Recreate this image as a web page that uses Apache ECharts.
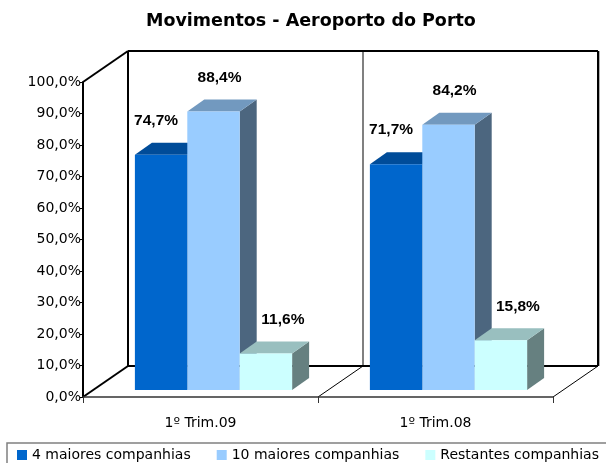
<!DOCTYPE html>
<html>
<head>
<meta charset="utf-8">
<script src="https://cdn.jsdelivr.net/npm/echarts@6/dist/echarts.min.js"></script>
<style>
  html, body { margin: 0; padding: 0; background: #fff; }
  #chart { width: 606px; height: 463px; }
</style>
</head>
<body>
<div id="chart"></div>
<script>
// dados
const categories = ["1º Trim.09", "1º Trim.08"]
const seriesNames = ["4 maiores companhias", "10 maiores companhias", "Restantes companhias"]
const top4 = [74.7, 71.7]
const top10 = [88.4, 84.2]
const others = [11.6, 15.8]

const fronts = ["#0066CC", "#99CCFF", "#CCFFFF"]
const tops = ["#004C99", "#7299BF", "#99BFBF"]
const sides = ["#003366", "#4C667F", "#668080"]
const labelOff = [-5, 6, 17]

// profundidade da "caixa" 3D
const WALL_DX = 45
const WALL_DY = -31
const BAR_SHIFT_X = 13
const BAR_SHIFT_Y = -7
const BAR_DX = 17
const BAR_DY = -12

const fmt = (v) => v.toFixed(1).replace(".", ",") + "%"

const renderFrame = (params, api) => {
  const bw = api.size([1, 0])[0]
  const p0 = api.coord([0, 0])
  const p1 = api.coord([1, 0])
  const left = p0[0] - bw / 2
  const right = p1[0] + bw / 2
  const mid = (left + right) / 2
  const y0 = p0[1]
  const y100 = api.coord([0, 100])[1]
  const bl = left + WALL_DX
  const br = right + WALL_DX
  const bt = y100 + WALL_DY
  const bb = y0 + WALL_DY
  const line = (x1, y1, x2, y2, color, width) => ({
    type: "line",
    shape: { x1, y1, x2, y2 },
    style: { stroke: color, lineWidth: width },
  })
  return {
    type: "group",
    children: [
      line(br + 1.5, bt, br + 1.5, bb, "#b0b0b0", 1),
      line(mid + WALL_DX, bt, mid + WALL_DX, bb, "#808080", 2),
      line(bl, bt, br, bt, "#000", 2),
      line(br, bt, br, bb, "#000", 2),
      line(bl, bt, bl, bb, "#000", 2),
      line(bl, bb, br, bb, "#000", 2),
      line(left, y100, bl, bt, "#000", 2),
      line(left, y0, bl, bb, "#000", 2),
      line(mid, y0, mid + WALL_DX, bb, "#000", 1),
      line(right, y0, br, bb, "#000", 1),
    ],
  }
}

const makeBar = (idx) => (params, api) => {
  const cat = api.value(0)
  const v = api.value(1)
  const base = api.coord([cat, 0])
  const topPt = api.coord([cat, v])
  const bw = api.size([1, 0])[0]
  const barW = bw * 0.223
  const x0 = base[0] + BAR_SHIFT_X + (idx - 1.5) * barW
  const x1 = x0 + barW
  const yb = base[1] + BAR_SHIFT_Y
  const yt = topPt[1] + BAR_SHIFT_Y
  return {
    type: "group",
    children: [
      {
        type: "polygon",
        shape: { points: [[x1, yt], [x1 + BAR_DX, yt + BAR_DY], [x1 + BAR_DX, yb + BAR_DY], [x1, yb]] },
        style: { fill: sides[idx] },
      },
      {
        type: "polygon",
        shape: { points: [[x0, yt], [x0 + BAR_DX, yt + BAR_DY], [x1 + BAR_DX, yt + BAR_DY], [x1, yt]] },
        style: { fill: tops[idx] },
      },
      {
        type: "rect",
        shape: { x: x0, y: yt, width: barW, height: yb - yt },
        style: { fill: fronts[idx] },
      },
      {
        type: "text",
        style: {
          text: fmt(v),
          x: x0 + barW / 2 + labelOff[idx],
          y: yt - 34,
          align: "center",
          verticalAlign: "middle",
          fill: "#000",
          font: "bold 15.5px 'Liberation Sans'",
        },
      },
    ],
  }
}

const values = [top4, top10, others]

const option = {
  animation: false,
  title: {
    text: "Movimentos - Aeroporto do Porto",
    left: 146,
    top: 12,
    padding: 0,
    textStyle: { fontFamily: "DejaVu Sans", fontWeight: "bold", fontSize: 17.5, color: "#000" },
  },
  legend: {
    data: seriesNames,
    orient: "horizontal",
    left: 7,
    top: 443,
    width: 660,
    padding: [5, 10, 10, 10],
    icon: "rect",
    itemWidth: 10,
    itemHeight: 10,
    itemGap: 26,
    itemTextGap: 5,
    borderColor: "#808080",
    borderWidth: 1.5,
    textStyle: { fontFamily: "DejaVu Sans", fontSize: 14, color: "#000" },
  },
  grid: { left: 83, right: 53, top: 82, bottom: 66 },
  xAxis: {
    type: "category",
    data: categories,
    boundaryGap: true,
    axisLine: { lineStyle: { color: "#333", width: 1.5 } },
    axisTick: { show: true, length: 6, interval: 0, lineStyle: { color: "#333" } },
    axisLabel: { margin: 19, fontFamily: "DejaVu Sans", fontSize: 14, color: "#000" },
    z: 1,
  },
  yAxis: {
    type: "value",
    min: 0,
    max: 100,
    interval: 10,
    axisLine: { show: true, lineStyle: { color: "#000", width: 2 } },
    axisTick: { show: true, length: 3, lineStyle: { color: "#000" } },
    splitLine: { show: false },
    axisLabel: {
      margin: 2,
      fontFamily: "DejaVu Sans",
      fontSize: 14,
      color: "#000",
      formatter: (v) => fmt(v),
    },
  },
  series: [
    {
      name: "frame",
      type: "custom",
      silent: true,
      clip: false,
      renderItem: renderFrame,
      itemStyle: { color: "#000" },
      data: [[0, 0]],
      z: 0,
    },
  ].concat(
    seriesNames.map((name, i) => ({
      name,
      type: "custom",
      clip: false,
      renderItem: makeBar(i),
      itemStyle: { color: fronts[i] },
      data: values[i].map((v, k) => [k, v]),
      encode: { x: 0, y: 1 },
      z: 2 + i,
    }))
  ),
}

const chart = echarts.init(document.getElementById("chart"))
chart.setOption(option)
</script>
</body>
</html>
